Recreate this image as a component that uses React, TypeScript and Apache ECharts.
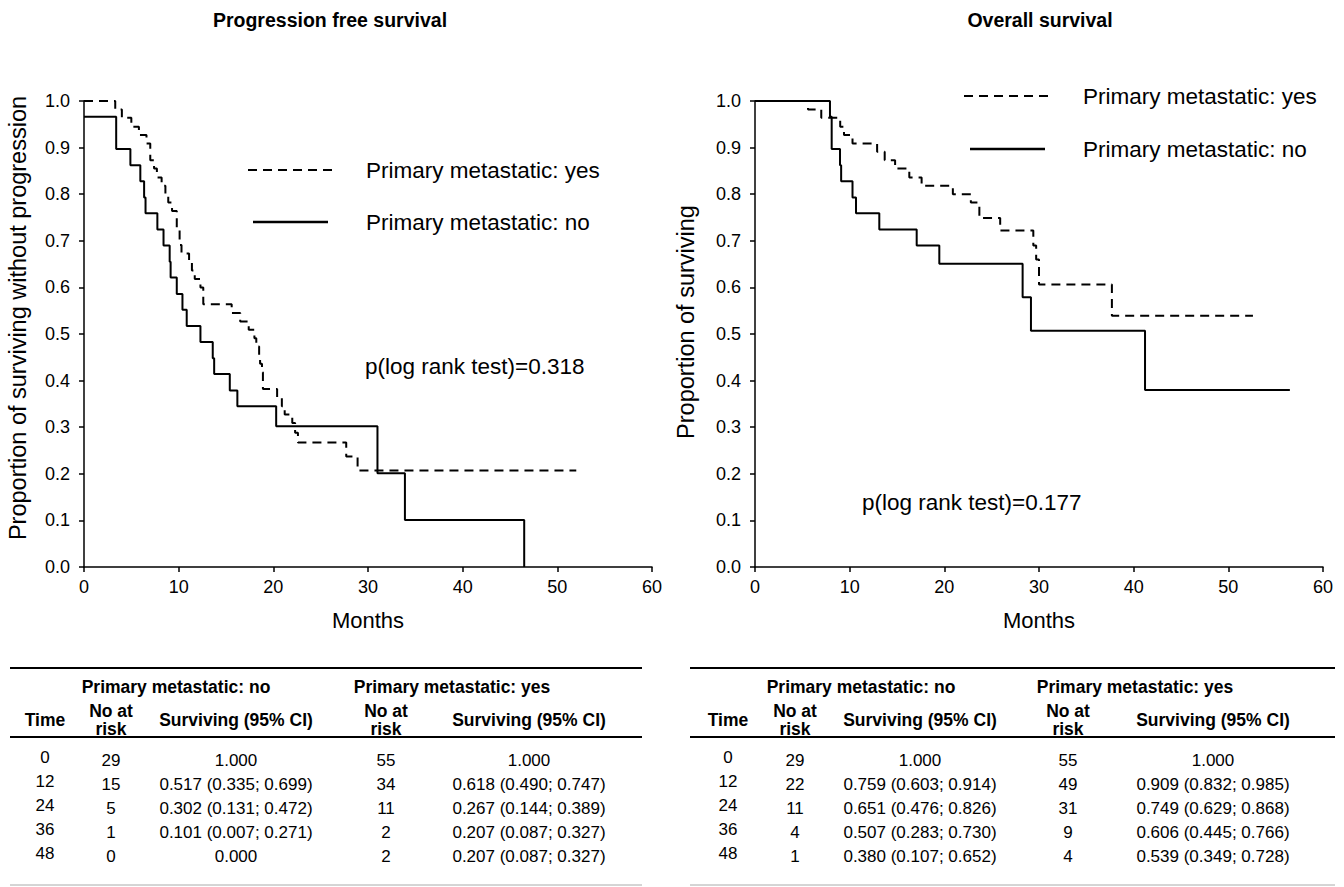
import React, { useEffect, useRef } from "react";
import * as echarts from "echarts";

const FONT = '"Liberation Sans", Arial, Helvetica, sans-serif';

// ---- Kaplan-Meier step data [months, proportion] ----
const pfsNo: [number, number][] = [
  [0, 0.966], [3.4, 0.897], [4.9, 0.862], [5.95, 0.828], [6.35, 0.793], [6.5, 0.759],
  [7.75, 0.724], [8.4, 0.69], [9.05, 0.655], [9.15, 0.621], [9.8, 0.586], [10.4, 0.552],
  [10.85, 0.517], [12.3, 0.483], [13.6, 0.448], [13.75, 0.414], [15.4, 0.379], [16.2, 0.345],
  [20.3, 0.302], [31.0, 0.201], [33.9, 0.101], [46.5, 0],
];
const pfsYes: [number, number][] = [
  [0, 1.0], [3.3, 0.982], [4.0, 0.964], [5.0, 0.945], [5.8, 0.927], [6.6, 0.909],
  [7.0, 0.873], [7.4, 0.855], [7.7, 0.836], [8.2, 0.818], [8.6, 0.8], [8.9, 0.782],
  [9.3, 0.764], [9.8, 0.727], [10.1, 0.691], [10.3, 0.673], [11.1, 0.655], [11.4, 0.636],
  [11.7, 0.618], [12.3, 0.6], [12.6, 0.564], [15.6, 0.545], [16.5, 0.527], [17.4, 0.509],
  [18.0, 0.491], [18.2, 0.473], [18.5, 0.455], [18.6, 0.436], [18.8, 0.418], [18.9, 0.382],
  [20.4, 0.364], [20.9, 0.345], [21.2, 0.327], [22.0, 0.309], [22.3, 0.288], [22.6, 0.267],
  [27.7, 0.237], [28.9, 0.207], [52.0, 0.207],
];
const osNo: [number, number][] = [
  [0, 1.0], [7.92, 0.966], [8.1, 0.897], [8.98, 0.862], [9.1, 0.828], [10.3, 0.793],
  [10.67, 0.759], [13.13, 0.724], [17.08, 0.69], [19.47, 0.651], [28.27, 0.579],
  [29.15, 0.507], [41.2, 0.38], [56.5, 0.38],
];
const osYes: [number, number][] = [
  [0, 1.0], [5.6, 0.982], [7.0, 0.964], [9.0, 0.945], [9.4, 0.927], [10.3, 0.909],
  [12.9, 0.891], [13.7, 0.873], [14.8, 0.855], [16.3, 0.836], [17.6, 0.818], [20.9, 0.8],
  [22.8, 0.782], [23.7, 0.749], [25.9, 0.722], [29.4, 0.69], [29.7, 0.66], [30.0, 0.606],
  [37.7, 0.539], [52.6, 0.539],
];

// ---- texts ----
const titles = ["Progression free survival", "Overall survival"];
const yNames = ["Proportion of surviving without progression", "Proportion of surviving"];
const xName = "Months";
const legendYes = "Primary metastatic: yes";
const legendNo = "Primary metastatic: no";
const pValues = ["p(log rank test)=0.318", "p(log rank test)=0.177"];

// ---- tables ----
const tableTimes = ["0", "12", "24", "36", "48"];
const pfsNoRisk = ["29", "15", "5", "1", "0"];
const pfsNoSurv = ["1.000", "0.517 (0.335; 0.699)", "0.302 (0.131; 0.472)", "0.101 (0.007; 0.271)", "0.000"];
const pfsYesRisk = ["55", "34", "11", "2", "2"];
const pfsYesSurv = ["1.000", "0.618 (0.490; 0.747)", "0.267 (0.144; 0.389)", "0.207 (0.087; 0.327)", "0.207 (0.087; 0.327)"];
const osNoRisk = ["29", "22", "11", "4", "1"];
const osNoSurv = ["1.000", "0.759 (0.603; 0.914)", "0.651 (0.476; 0.826)", "0.507 (0.283; 0.730)", "0.380 (0.107; 0.652)"];
const osYesRisk = ["55", "49", "31", "9", "4"];
const osYesSurv = ["1.000", "0.909 (0.832; 0.985)", "0.749 (0.629; 0.868)", "0.606 (0.445; 0.766)", "0.539 (0.349; 0.728)"];

function txt(x: number, y: number, text: string, size: number, opts: any = {}) {
  return {
    type: "text",
    x,
    y,
    rotation: opts.rotation || 0,
    silent: true,
    style: {
      text,
      fill: "#000",
      fontSize: size,
      fontFamily: FONT,
      fontWeight: opts.bold ? "bold" : "normal",
      textAlign: opts.align || "left",
      align: opts.align || "left",
      textVerticalAlign: "middle",
      verticalAlign: "middle",
    },
  };
}

function hline(x1: number, x2: number, y: number, width: number, color = "#000", dash?: number[]) {
  return {
    type: "line",
    silent: true,
    shape: { x1, y1: y, x2, y2: y },
    style: { stroke: color, lineWidth: width, lineDash: dash || null },
  };
}

function table(
  x0: number, x1: number, cols: number[], groupCenters: number[],
  noRisk: string[], noSurv: string[], yesRisk: string[], yesSurv: string[]
) {
  const els: any[] = [];
  els.push(hline(x0, x1, 668, 2));
  els.push(hline(x0, x1, 737, 2));
  els.push(hline(x0, x1, 885, 1, "#aaa"));
  const H = 17.5;
  els.push(txt(groupCenters[0], 687, legendNo, H, { bold: true, align: "center" }));
  els.push(txt(groupCenters[1], 687, legendYes, H, { bold: true, align: "center" }));
  els.push(txt(cols[0], 720, "Time", H, { bold: true, align: "center" }));
  els.push(txt(cols[1], 711, "No at", H, { bold: true, align: "center" }));
  els.push(txt(cols[1], 729, "risk", H, { bold: true, align: "center" }));
  els.push(txt(cols[2], 720, "Surviving (95% CI)", H, { bold: true, align: "center" }));
  els.push(txt(cols[3], 711, "No at", H, { bold: true, align: "center" }));
  els.push(txt(cols[3], 729, "risk", H, { bold: true, align: "center" }));
  els.push(txt(cols[4], 720, "Surviving (95% CI)", H, { bold: true, align: "center" }));
  const rows = [760, 784, 808, 832, 856];
  const D = 17;
  tableTimes.forEach((t, i) => {
    els.push(txt(cols[0], rows[i] - 3, t, D, { align: "center" }));
    els.push(txt(cols[1], rows[i], noRisk[i], D, { align: "center" }));
    els.push(txt(cols[2], rows[i], noSurv[i], D, { align: "center" }));
    els.push(txt(cols[3], rows[i], yesRisk[i], D, { align: "center" }));
    els.push(txt(cols[4], rows[i], yesSurv[i], D, { align: "center" }));
  });
  return els;
}

export default function App() {
  const ref = useRef<HTMLDivElement>(null);
  useEffect(() => {
    const chart = echarts.init(ref.current!, null, { renderer: "svg" });
    const axisLine = { show: true, onZero: false, lineStyle: { color: "#000", width: 1.5 } };
    const axisTick = { show: true, inside: false, length: 5, lineStyle: { color: "#000", width: 1.5 } };
    const xAxes = [0, 1].map((i) => ({
      type: "value",
      gridIndex: i,
      min: 0,
      max: 60,
      interval: 10,
      axisLine,
      axisTick,
      splitLine: { show: false },
      axisLabel: { color: "#000", fontSize: 18, fontFamily: FONT, margin: 11 },
      name: xName,
      nameLocation: "middle",
      nameGap: 42,
      nameTextStyle: { color: "#000", fontSize: 22, fontFamily: FONT },
    }));
    const yAxes = [0, 1].map((i) => ({
      type: "value",
      gridIndex: i,
      min: 0,
      max: 1,
      interval: 0.1,
      axisLine,
      axisTick,
      splitLine: { show: false },
      axisLabel: {
        color: "#000",
        fontSize: 18,
        fontFamily: FONT,
        margin: 14,
        formatter: (v: number) => v.toFixed(1),
      },
    }));
    const dash = [9, 6];
    const mk = (data: [number, number][], idx: number, dashed: boolean) => ({
      type: "line",
      xAxisIndex: idx,
      yAxisIndex: idx,
      data,
      step: "end",
      showSymbol: false,
      symbol: "none",
      silent: true,
      lineStyle: { color: "#000", width: 2, type: dashed ? dash : "solid" },
    });
    const graphic: any[] = [
      txt(330, 20, titles[0], 19.5, { bold: true, align: "center" }),
      txt(1040, 20, titles[1], 19.5, { bold: true, align: "center" }),
      txt(18, 318, yNames[0], 23.5, { align: "center", rotation: Math.PI / 2 }),
      txt(686, 322, yNames[1], 23.5, { align: "center", rotation: Math.PI / 2 }),
      hline(248, 333, 170, 2, "#000", dash),
      txt(366, 170, legendYes, 22.5),
      hline(253, 328, 222, 2.5),
      txt(366, 222, legendNo, 22.5),
      hline(964, 1050, 96, 2, "#000", dash),
      txt(1083, 96, legendYes, 22.5),
      hline(970, 1045, 149, 2.5),
      txt(1083, 149, legendNo, 22.5),
      txt(365, 366, pValues[0], 22.5),
      txt(862, 502, pValues[1], 22.5),
      ...table(10, 642, [45, 111, 236, 386, 529], [176, 452], pfsNoRisk, pfsNoSurv, pfsYesRisk, pfsYesSurv),
      ...table(690, 1335, [728, 795, 920, 1068, 1213], [861, 1135], osNoRisk, osNoSurv, osYesRisk, osYesSurv),
    ];
    chart.setOption({
      animation: false,
      backgroundColor: "#fff",
      textStyle: { fontFamily: FONT },
      grid: [
        { left: 84, top: 101, width: 568, height: 466, containLabel: false },
        { left: 755, top: 101, width: 568, height: 466, containLabel: false },
      ],
      xAxis: xAxes,
      yAxis: yAxes,
      series: [mk(pfsYes, 0, true), mk(pfsNo, 0, false), mk(osYes, 1, true), mk(osNo, 1, false)],
      graphic,
    });
    return () => chart.dispose();
  }, []);
  return (
    <div
      ref={ref}
      style={{ position: "fixed", left: 0, top: 0, width: 1344, height: 887, background: "#fff" }}
    />
  );
}
